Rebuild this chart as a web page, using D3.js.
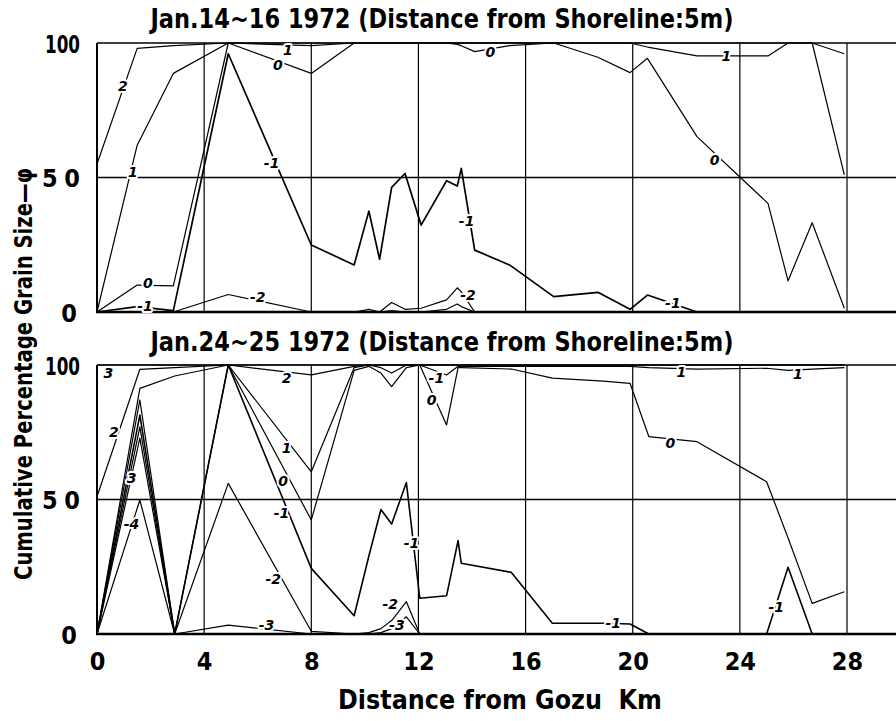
<!DOCTYPE html>
<html><head><meta charset="utf-8">
<script src="https://cdn.jsdelivr.net/npm/d3@7"></script>
<style>
body{margin:0;background:#fff}
svg{display:block;background:#fff}
text{font-family:"Liberation Sans Narrow","DejaVu Sans Condensed","DejaVu Sans",sans-serif;font-weight:bold;fill:#000}
.lbl{font-family:"DejaVu Sans",sans-serif;font-style:italic;font-weight:bold;font-size:14px;paint-order:stroke;stroke:#fff;stroke-width:4px;stroke-linejoin:round}
</style></head><body>
<svg id="chart" width="896" height="721"></svg>
<script>
// ---- text ----
const titleTop = "Jan.14~16 1972 (Distance from Shoreline:5m)";
const titleBottom = "Jan.24~25 1972 (Distance from Shoreline:5m)";
const xTitle = "Distance from Gozu  Km";
const yTitle = "Cumulative Percentage Grain Size\u2014\u03c6";
const xTicks = [0, 4, 8, 12, 16, 20, 24, 28];
const yTicks = [0, 50, 100];

// ---- top panel (Jan.14-16): stations (km) and cumulative % per phi ----
const topKm  = [0, 1.5, 2.85, 4.9, 8.0, 9.6, 10.15, 10.55, 11.0, 11.5, 12.1, 13.05, 13.45, 13.6, 14.1, 15.4, 17.05, 18.7, 19.9, 20.55, 22.4, 24.05, 25.05, 25.8, 26.7, 27.9];
const topP2  = [55, 98, 99, 100, 100, 100, 100, 100, 100, 100, 100, 100, 100, 100, 100, 100, 100, 100, 100, 100, 100, 100, 100, 100, 100, 96];
const topP1  = [0, 62, 88.7, 100, 99, 100, 100, 100, 100, 100, 100, 100, 100, 100, 100, 100, 100, 100, 100, 98.5, 95.2, 95.2, 95.2, 100, 100, 51];
const topP0  = [0, 10, 9.7, 100, 88.7, 100, 100, 100, 100, 100, 100, 100, 99.5, 99, 96.8, 99, 100, 94.7, 89, 94.3, 65.2, 49.7, 40.4, 11.6, 33.2, 1.4];
const topM1  = [0, 2, 0.5, 96, 24.9, 17.5, 37.5, 19.6, 46.3, 51.5, 32.3, 48.8, 46.8, 53.4, 23, 17.5, 5.7, 7.3, 1, 6.3, 0, 0, 0, 0, 0, 0];
const topM2  = [0, 0, 0, 6.5, 0, 0, 1, 0, 3.5, 1, 1.4, 4.5, 9, 7.5, 0, 0, 0, 0, 0, 0, 0, 0, 0, 0, 0, 0];
const topM3  = [0, 0, 0, 0, 0, 0, 0, 0, 0.5, 0, 0, 1, 3, 2, 0, 0, 0, 0, 0, 0, 0, 0, 0, 0, 0, 0];
// labels: [text, km, value]
const topLabels = [["2", 0.97, 84], ["1", 1.34, 52], ["0", 1.9, 10.9], ["-1", 1.79, 2.4],
  ["1", 7.13, 97.3], ["0", 6.75, 92], ["-1", 6.52, 55.3], ["-2", 6.0, 5.7],
  ["0", 14.69, 96.6], ["-1", 13.8, 33.9], ["-2", 13.85, 6.3],
  ["1", 23.5, 95.2], ["0", 23.06, 56.5], ["-1", 21.5, 3.4]];

// ---- bottom panel (Jan.24-25) ----
const botKm  = [0, 1.6, 2.9, 4.9, 8.0, 9.6, 10.15, 10.6, 11.0, 11.55, 12.05, 13.05, 13.48, 13.6, 15.47, 17.0, 18.9, 19.9, 20.6, 22.4, 25.0, 25.8, 26.7, 27.9];
const botP3  = [100, 100, 100, 100, 100, 100, 100, 100, 100, 100, 100, 100, 100, 100, 100, 100, 100, 100, 100, 100, 100, 100, 100, 100];
const botP2  = [51, 98.4, 99, 100, 96.3, 99.5, 100, 100, 100, 100, 100, 100, 100, 100, 100, 100, 100, 100, 100, 100, 100, 100, 100, 100];
const botP1  = [0, 91.3, 95.9, 100, 60.3, 99, 100, 99, 97, 100, 100, 96.3, 99.5, 99.5, 99.5, 99.5, 99.5, 99.5, 99, 98.5, 98.8, 98, 98.5, 99];
const botP0  = [0, 87, 0, 100, 42.4, 98, 99.5, 97, 92, 99, 100, 77.7, 99, 99, 98.5, 95.1, 94, 93.2, 73.4, 71.5, 56.6, 35.7, 11.4, 15.7];
const botM1  = [0, 81.4, 0, 100, 24.4, 6.8, 29, 46.3, 40.9, 56.3, 13.3, 14.2, 34.7, 26.3, 22.9, 4, 4, 3.7, 0, 0, 0, 24.8, 0, 0];
const botM2  = [0, 77, 0, 56, 1, 0, 0.5, 2, 5, 12, 0, 0, 0, 0, 0, 0, 0, 0, 0, 0, 0, 0, 0, 0];
const botM3  = [0, 72.8, 0, 3.3, 0, 0, 0, 0.5, 2, 6.4, 0, 0, 0, 0, 0, 0, 0, 0, 0, 0, 0, 0, 0, 0];
const botM4  = [0, 49.8, 0, 0, 0, 0, 0, 0, 0, 0, 0, 0, 0, 0, 0, 0, 0, 0, 0, 0, 0, 0, 0, 0];
const botLabels = [["3", 0.42, 96.9], ["2", 0.63, 75.2], ["3", 1.29, 58], ["-4", 1.29, 41],
  ["2", 7.08, 95.3], ["1", 7.08, 69], ["0", 6.95, 57], ["-1", 6.89, 45], ["-2", 6.58, 20.3], ["-3", 6.33, 3.3],
  ["-1", 12.67, 95.3], ["0", 12.49, 87], ["-1", 11.74, 33.7], ["-2", 10.95, 11], ["-3", 11.2, 3.4],
  ["1", 21.82, 97.3], ["1", 26.17, 96.8], ["0", 21.41, 71], ["-1", 19.27, 4.2], ["-1", 25.36, 10.1]];

const topSeries = [{name: "2", v: topP2}, {name: "1", v: topP1}, {name: "0", v: topP0},
  {name: "-1", v: topM1, w: 1.7}, {name: "-2", v: topM2}, {name: "-3", v: topM3}];
const botSeries = [{name: "3", v: botP3}, {name: "2", v: botP2}, {name: "1", v: botP1}, {name: "0", v: botP0},
  {name: "-1", v: botM1, w: 1.6}, {name: "-2", v: botM2}, {name: "-3", v: botM3}, {name: "-4", v: botM4}];

// ---- drawing ----
const W = 896, H = 721;
const svg = d3.select("#chart");
const x = d3.scaleLinear().domain([0, 28]).range([97, 847]);
const xMax = x.invert(W);

const panels = [
  {title: titleTop, km: topKm, series: topSeries, labels: topLabels,
   y: d3.scaleLinear().domain([0, 100]).range([312, 43]), titleY: 28},
  {title: titleBottom, km: botKm, series: botSeries, labels: botLabels,
   y: d3.scaleLinear().domain([0, 100]).range([634, 365]), titleY: 351}
];

panels.forEach((p, pi) => {
  const g = svg.append("g");
  const y = p.y;
  // vertical grid
  g.selectAll("line.vg").data(xTicks.filter(d => d > 0)).join("line")
    .attr("x1", d => x(d)).attr("x2", d => x(d))
    .attr("y1", y(0)).attr("y2", y(100))
    .attr("stroke", "#000").attr("stroke-width", 1.2);
  // horizontal 50 line
  g.append("line").attr("x1", x(0)).attr("x2", x(xMax)).attr("y1", y(50)).attr("y2", y(50))
    .attr("stroke", "#000").attr("stroke-width", 1.3);
  // top border
  g.append("line").attr("x1", x(0)).attr("x2", x(xMax)).attr("y1", y(100)).attr("y2", y(100))
    .attr("stroke", "#000").attr("stroke-width", 1.6);

  // series
  const line = d3.line().x((d, i) => x(p.km[i])).y(d => y(d));
  g.selectAll("path.s").data(p.series).join("path")
    .attr("d", s => line(s.v))
    .attr("fill", "none").attr("stroke", "#000")
    .attr("stroke-width", s => s.w || 1.2).attr("stroke-linejoin", "round");

  // left & bottom borders
  g.append("line").attr("x1", x(0)).attr("x2", x(0)).attr("y1", y(0) + 1).attr("y2", y(100))
    .attr("stroke", "#000").attr("stroke-width", 2);
  g.append("line").attr("x1", x(0) - 1).attr("x2", x(xMax)).attr("y1", y(0)).attr("y2", y(0))
    .attr("stroke", "#000").attr("stroke-width", 2.6);

  // curve labels
  g.selectAll("text.lbl").data(p.labels).join("text")
    .attr("class", "lbl")
    .attr("x", d => x(d[1])).attr("y", d => y(d[2]))
    .attr("text-anchor", "middle").attr("dy", "0.36em")
    .text(d => d[0]);

  // y axis
  const ya = g.append("g").attr("transform", `translate(${x(0)},0)`)
    .call(d3.axisLeft(y).tickValues(yTicks).tickSize(0).tickPadding(17).tickFormat(d3.format("d")));
  ya.select(".domain").remove();
  ya.selectAll("text").style("font-size", "25px").style("font-family", null)
    .attr("dy", "0.36em")
    .attr("dx", d => d === 0 ? -3 : 0)
    .attr("textLength", d => d === 100 ? 35 : (d === 50 ? 38 : null))
    .attr("lengthAdjust", d => d === 100 ? "spacingAndGlyphs" : "spacing");

  // title
  g.append("text").attr("x", 442).attr("y", p.titleY).attr("text-anchor", "middle")
    .style("font-size", "26px").attr("textLength", 583).attr("lengthAdjust", "spacingAndGlyphs")
    .text(p.title);

  if (pi === 1) {
    const xa = g.append("g").attr("transform", `translate(0,${y(0)})`)
      .call(d3.axisBottom(x).tickValues(xTicks).tickSize(0).tickPadding(18));
    xa.select(".domain").remove();
    xa.selectAll("text").style("font-size", "25px").style("font-family", null);
  }
});

svg.append("text").attr("x", 500).attr("y", 709).attr("text-anchor", "middle")
  .style("font-size", "26px").style("white-space", "pre")
  .attr("textLength", 324).attr("lengthAdjust", "spacingAndGlyphs")
  .text(xTitle);
svg.append("text").attr("transform", "translate(32,374) rotate(-90)").attr("text-anchor", "middle")
  .style("font-size", "25px").attr("textLength", 412).attr("lengthAdjust", "spacingAndGlyphs")
  .text(yTitle);
</script>
</body></html>
